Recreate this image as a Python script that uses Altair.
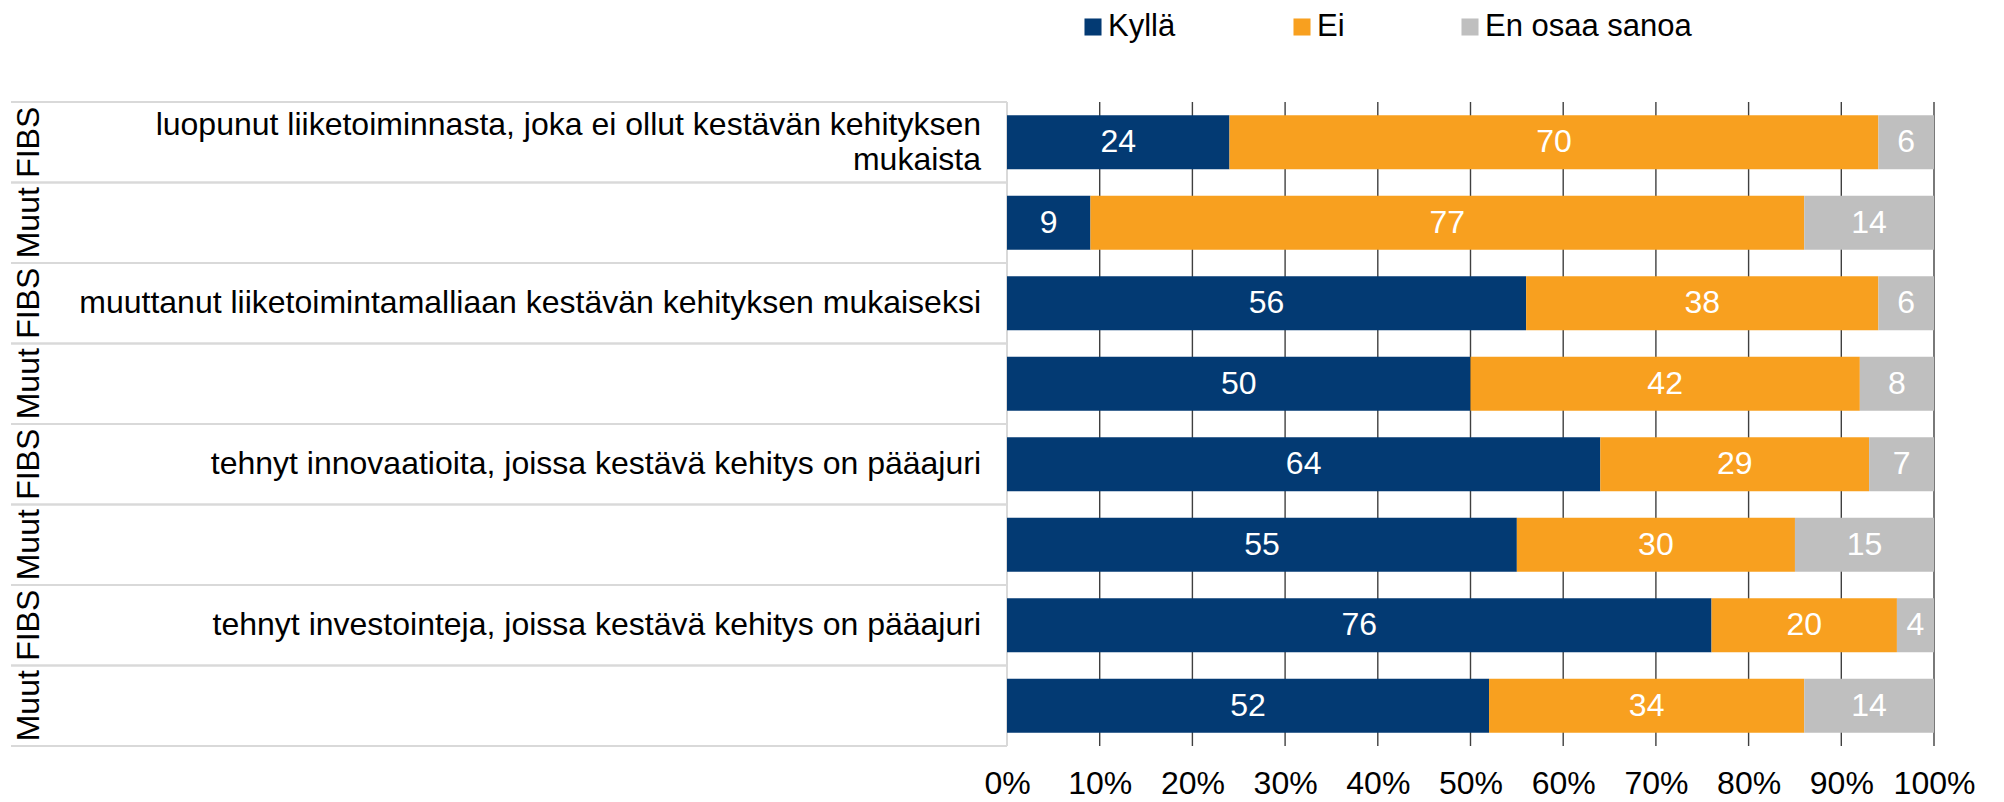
import altair as alt
import pandas as pd

FONT = "Liberation Sans, Arial"
FS = 32

rows = [0, 1, 2, 3, 4, 5, 6, 7]
groups = ["FIBS", "Muut", "FIBS", "Muut", "FIBS", "Muut", "FIBS", "Muut"]
questions = [
    "luopunut liiketoiminnasta, joka ei ollut kestävän kehityksen\nmukaista",
    "",
    "muuttanut liiketoimintamalliaan kestävän kehityksen mukaiseksi",
    "",
    "tehnyt innovaatioita, joissa kestävä kehitys on pääajuri",
    "",
    "tehnyt investointeja, joissa kestävä kehitys on pääajuri",
    "",
]
kylla = [24, 9, 56, 50, 64, 55, 76, 52]
ei = [70, 77, 38, 42, 29, 30, 20, 34]
eos = [6, 14, 6, 8, 7, 15, 4, 14]
categories = ["Kyllä", "Ei", "En osaa sanoa"]
colors = ["#033a73", "#f8a01f", "#bfbfbf"]
ticks = [0, 10, 20, 30, 40, 50, 60, 70, 80, 90, 100]

long = []
for i, r in enumerate(rows):
    for k, (cat, vals) in enumerate(zip(categories, [kylla, ei, eos])):
        long.append({"row": r, "cat": cat, "ord": k, "value": vals[i]})
bars_df = pd.DataFrame(long)
rows_df = pd.DataFrame({"row": rows, "group": groups, "q": questions})
ticks_df = pd.DataFrame({"t": ticks})

yscale = alt.Scale(domain=rows, paddingInner=0, paddingOuter=0)
xscale = alt.Scale(domain=[0, 100], nice=False, zero=True)
cscale = alt.Scale(domain=categories, range=colors)
xaxis = alt.Axis(
    values=ticks, labelExpr="datum.value + '%'", domain=False, ticks=False,
    grid=False, labelPadding=22, labelFontSize=FS, labelFont=FONT,
    labelColor="#000000", title=None, labelOverlap=False, labelFlush=False,
)

W, H = 927, 644

# table lines on the left
hlines_top = alt.Chart(rows_df).mark_rule(color="#d9d9d9", strokeWidth=2).encode(
    x=alt.value(-996), x2=alt.value(0),
    y=alt.Y("row:O", scale=yscale, axis=None, bandPosition=0),
)
hlines_bot = alt.Chart(rows_df).mark_rule(color="#d9d9d9", strokeWidth=2).encode(
    x=alt.value(-996), x2=alt.value(0),
    y=alt.Y("row:O", scale=yscale, axis=None, bandPosition=1),
)

grid = alt.Chart(ticks_df).mark_rule().encode(
    x=alt.X("t:Q", scale=xscale, axis=xaxis),
    y=alt.value(0), y2=alt.value("height"),
    color=alt.condition("datum.t === 0", alt.value("#d9d9d9"), alt.value("#404040")),
    strokeWidth=alt.condition("datum.t === 0", alt.value(2), alt.value(1.4)),
)

bars = alt.Chart(bars_df).mark_bar(size=54).encode(
    x=alt.X("value:Q", stack="zero", scale=xscale, axis=xaxis),
    y=alt.Y("row:O", scale=yscale, axis=None),
    color=alt.Color("cat:N", scale=cscale, legend=None),
    order=alt.Order("ord:Q"),
)

labels = alt.Chart(bars_df).transform_stack(
    stack="value", groupby=["row"], as_=["x0", "x1"],
    sort=[alt.SortField("ord", order="ascending")],
).transform_calculate(mid="(datum.x0 + datum.x1) / 2").mark_text(
    color="white", fontSize=FS, font=FONT, baseline="middle", align="center",
).encode(
    x=alt.X("mid:Q", scale=xscale, axis=xaxis),
    y=alt.Y("row:O", scale=yscale, axis=None),
    text="value:Q",
)

group_text = alt.Chart(rows_df).mark_text(
    angle=270, fontSize=FS, font=FONT, color="#000000", align="center", baseline="middle",
).encode(
    x=alt.value(-978),
    y=alt.Y("row:O", scale=yscale, axis=None),
    text="group:N",
)

q_single = alt.Chart(rows_df).transform_filter(
    "datum.q !== '' && indexof(datum.q, '\\n') < 0"
).mark_text(
    fontSize=FS, font=FONT, color="#000000", align="right", baseline="middle",
).encode(
    x=alt.value(-26),
    y=alt.Y("row:O", scale=yscale, axis=None),
    text="q:N",
)

q_multi = alt.Chart(rows_df).transform_filter(
    "indexof(datum.q, '\\n') >= 0"
).mark_text(
    fontSize=FS, font=FONT, color="#000000", align="right", baseline="middle",
    lineBreak="\n", lineHeight=35, dy=-17.5,
).encode(
    x=alt.value(-26),
    y=alt.Y("row:O", scale=yscale, axis=None),
    text="q:N",
)

# legend drawn as marks, using the same colour scale
legend_pos = {"Kyllä": 86, "Ei": 295, "En osaa sanoa": 463}
LEG_Y = -75
legend_layers = []
for c in categories:
    ld = alt.Data(values=[{"cat": c}])
    sym = alt.Chart(ld).mark_square(size=290, opacity=1).encode(
        x=alt.value(legend_pos[c]), y=alt.value(LEG_Y),
        color=alt.Color("cat:N", scale=cscale, legend=None),
    )
    txt = alt.Chart(ld).mark_text(
        fontSize=31, font=FONT, color="#000000", align="left", baseline="middle",
    ).encode(
        x=alt.value(legend_pos[c] + 15), y=alt.value(LEG_Y), text="cat:N",
    )
    legend_layers += [sym, txt]

chart = alt.layer(
    hlines_top, hlines_bot, grid, bars, labels, group_text, q_single, q_multi,
    *legend_layers,
).properties(
    width=W, height=H,
    autosize=alt.AutoSizeParams(type="none"),
    padding={"left": 999, "top": 94, "right": 60, "bottom": 56},
    background="white",
).configure_view(stroke=None)

chart.save("out.html", embed_options={"renderer": "svg", "actions": False})
